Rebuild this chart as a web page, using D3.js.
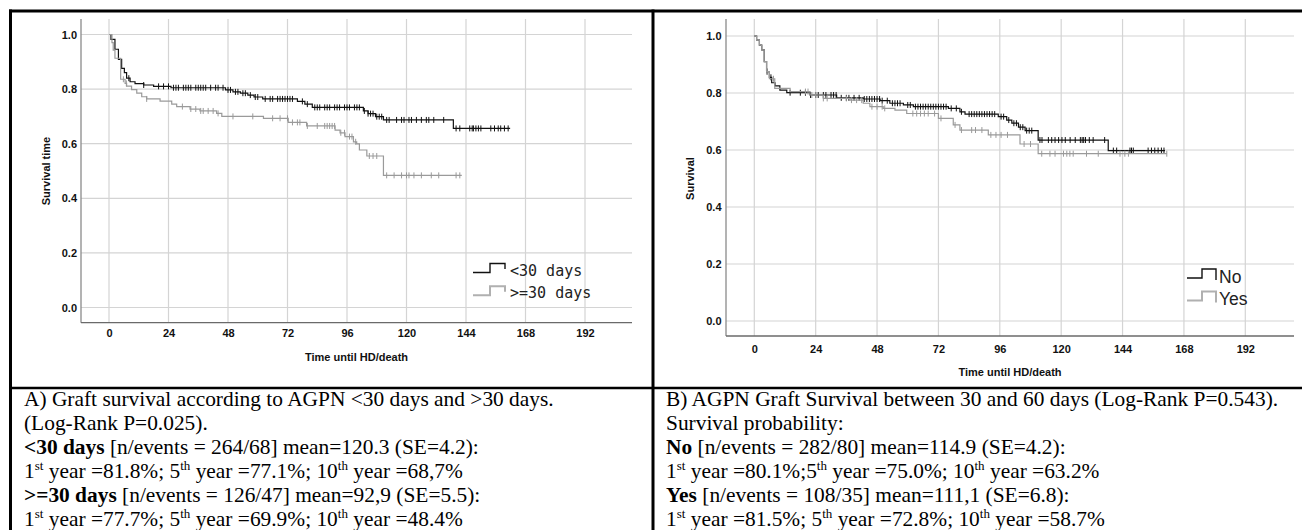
<!DOCTYPE html>
<html><head><meta charset="utf-8">
<script src="https://cdn.jsdelivr.net/npm/d3@7"></script>
<style>html,body{margin:0;padding:0;background:#fff;}svg{display:block}</style>
</head><body>
<svg id="c" width="1302" height="530"></svg>
<script>
// ---------------- DATA ----------------
const xTickValues = [0, 24, 48, 72, 96, 120, 144, 168, 192];
const yTickValues = [0.0, 0.2, 0.4, 0.6, 0.8, 1.0];
const xAxisTitle = "Time until HD/death";
const yTitleA = "Survival time";
const yTitleB = "Survival";

// Panel A: <30 days (black)
const lowTimes = [0, 0.8, 2.4, 3.8, 5.1, 6.2, 7.1, 8.5, 10.5, 14, 18, 25, 47, 50, 53, 56, 58.5, 62, 76, 79, 82, 102.6, 104.5, 107.5, 110.7, 138.9];
const lowSurv  = [1.0, 0.982, 0.946, 0.909, 0.876, 0.86, 0.84, 0.827, 0.82, 0.815, 0.81, 0.805, 0.797, 0.79, 0.785, 0.778, 0.771, 0.764, 0.755, 0.745, 0.733, 0.72, 0.71, 0.699, 0.687, 0.656];
const lowEnd = 161.8;
const lowCensor = [8, 14, 20, 22, 24, 26, 27, 28, 30, 31, 32, 33, 35, 36, 37, 38, 39, 41, 43, 44, 46, 48, 49, 51, 52, 54, 55, 57, 59, 60, 63, 65, 66, 68, 69, 70, 71, 72, 73, 74, 78, 80, 83, 84, 85, 87, 88, 89, 91, 92, 93, 95, 96, 97, 99, 100, 101, 103, 104.5, 105.5, 106.5, 108, 109, 110, 112, 113, 116, 118, 119, 121, 122, 124, 126, 128, 129, 131, 135, 140, 141.5, 145.5, 146.5, 147, 148, 149, 150, 154, 155.5, 157, 158, 159.5, 161];

// Panel A: >=30 days (grey)
const highTimes = [0, 1.2, 1.7, 2.4, 4.7, 6.5, 7.1, 9.1, 11.2, 13.2, 15.2, 20.6, 25.3, 27.3, 32.7, 36.7, 43.4, 45.5, 62.3, 72.3, 79.7, 91.2, 93.2, 95.2, 98.6, 99.9, 101, 104, 110.7];
const highSurv  = [1.0, 0.97, 0.943, 0.913, 0.836, 0.821, 0.811, 0.798, 0.785, 0.772, 0.764, 0.756, 0.745, 0.736, 0.727, 0.72, 0.711, 0.70, 0.693, 0.678, 0.665, 0.65, 0.64, 0.626, 0.607, 0.599, 0.577, 0.555, 0.484];
const highEnd = 142.3;
const highCensor = [5.8, 7, 15.2, 29.6, 33, 35, 37, 38, 40, 42, 44, 50, 58, 66, 69, 72, 74, 76, 77, 80, 84, 87, 88, 89, 90, 91, 93.5, 95, 97, 98, 99.5, 105, 106.5, 108, 112, 115, 118, 120, 121, 123, 126, 130, 133, 140, 141.5];

// Panel B: No (black)
const noTimes = [0, 0.9, 2, 2.9, 3.9, 4.8, 5.9, 6.8, 8.1, 10, 12.7, 21.8, 32.2, 42.6, 49.2, 53, 58.3, 62.2, 75.9, 80.4, 82.4, 95.4, 98.7, 100.7, 103.3, 105.9, 111, 138.4];
const noSurv  = [1.0, 0.986, 0.968, 0.951, 0.91, 0.875, 0.855, 0.836, 0.825, 0.81, 0.801, 0.793, 0.783, 0.779, 0.773, 0.764, 0.758, 0.752, 0.746, 0.734, 0.726, 0.717, 0.705, 0.694, 0.68, 0.668, 0.635, 0.598];
const noEnd = 160.6;
const noCensor = [5, 6.5, 14, 18, 20, 22, 24, 25, 27, 28, 30, 31, 32, 34, 36, 37, 39, 41, 43, 44, 45, 46, 47, 48, 49, 50, 52, 54, 55, 56, 57, 60, 61, 63, 64, 65, 66, 67, 68, 69, 70, 71, 72, 73, 74, 75, 77, 79, 81, 84, 85, 86, 87, 88, 89, 90, 91, 92, 93, 94, 96.5, 97.5, 99.5, 101.5, 102.5, 104, 105, 106.5, 107.5, 108.5, 111.7, 112.5, 115, 116.3, 117.6, 119, 120.3, 121.6, 123.5, 125.5, 127.5, 128.2, 128.8, 129.5, 131, 132.5, 137, 140.4, 141.7, 146.9, 147.5, 148.2, 154, 155.3, 156.6, 157.9, 159.2, 160.2];

// Panel B: Yes (grey)
const yesTimes = [0, 0.9, 2, 2.9, 3.9, 4.8, 5.9, 8, 14, 21.8, 27, 37.4, 42.6, 45.2, 50.4, 55, 59.6, 72, 77.8, 80.4, 91.5, 103.9, 111];
const yesSurv  = [1.0, 0.986, 0.968, 0.951, 0.91, 0.875, 0.85, 0.816, 0.805, 0.793, 0.781, 0.775, 0.764, 0.752, 0.746, 0.74, 0.728, 0.711, 0.688, 0.67, 0.653, 0.621, 0.587];
const yesEnd = 161.3;
const yesCensor = [5, 7.5, 20, 21, 22.5, 24, 27, 28.5, 36, 38, 40, 42, 46, 48, 50, 51, 62, 63.5, 65, 66.5, 68, 70.5, 73, 78.5, 81, 85, 86.5, 89, 92.5, 94.5, 96.5, 99, 105.5, 108, 112.4, 115.6, 117.6, 120.9, 122.2, 123.4, 124.7, 129.9, 134.5, 143, 144.9, 146.3, 161.3];

const legendA = ["<30 days", ">=30 days"];
const legendB = ["No", "Yes"];

// Caption texts: each line is a list of [text, style] segments (b = bold, s = superscript)
const captionA = [
  [["A) Graft survival according to AGPN <30 days and >30 days.", ""]],
  [["(Log-Rank P=0.025).", ""]],
  [["<30 days", "b"], [" [n/events = 264/68] mean=120.3 (SE=4.2):", ""]],
  [["1", ""], ["st", "s"], [" year =81.8%; 5", ""], ["th", "s"], [" year =77.1%; 10", ""], ["th", "s"], [" year =68,7%", ""]],
  [[">=30 days", "b"], [" [n/events = 126/47] mean=92,9 (SE=5.5):", ""]],
  [["1", ""], ["st", "s"], [" year =77.7%; 5", ""], ["th", "s"], [" year =69.9%; 10", ""], ["th", "s"], [" year =48.4%", ""]]
];
const captionB = [
  [["B) AGPN Graft Survival between 30 and 60 days (Log-Rank P=0.543).", ""]],
  [["Survival probability:", ""]],
  [["No", "b"], [" [n/events = 282/80] mean=114.9 (SE=4.2):", ""]],
  [["1", ""], ["st", "s"], [" year =80.1%;5", ""], ["th", "s"], [" year =75.0%; 10", ""], ["th", "s"], [" year =63.2%", ""]],
  [["Yes", "b"], [" [n/events = 108/35] mean=111,1 (SE=6.8):", ""]],
  [["1", ""], ["st", "s"], [" year =81.5%; 5", ""], ["th", "s"], [" year =72.8%; 10", ""], ["th", "s"], [" year =58.7%", ""]]
];

// ---------------- DRAWING ----------------
const svg = d3.select("#c");
const BLACK = "#111", GREY = "#9a9a9a";

function drawPanel(cfg) {
  const x = d3.scaleLinear().domain([0, 192]).range(cfg.xr);
  const y = d3.scaleLinear().domain([0, 1]).range(cfg.yr);
  const g = svg.append("g");
  const [L, R, T, B] = cfg.box;

  g.selectAll(".hg").data(yTickValues).join("line")
    .attr("x1", L).attr("x2", R).attr("y1", d => y(d)).attr("y2", d => y(d))
    .attr("stroke", "#d4d4d4").attr("stroke-width", 1.2);
  g.selectAll(".vg").data(xTickValues).join("line")
    .attr("y1", T).attr("y2", B).attr("x1", d => x(d)).attr("x2", d => x(d))
    .attr("stroke", "#d4d4d4").attr("stroke-width", 1.2);

  const xa = g.append("g").attr("transform", `translate(0,${B})`)
    .call(d3.axisBottom(x).tickValues(xTickValues).tickSize(0).tickPadding(cfg.xPad).tickFormat(d3.format("d")));
  const ya = g.append("g").attr("transform", `translate(${L},0)`)
    .call(d3.axisLeft(y).tickValues(yTickValues).tickSize(0).tickPadding(L - cfg.yLabX).tickFormat(d3.format(".1f")));
  [xa, ya].forEach(a => {
    a.select(".domain").remove();
    a.selectAll("text").attr("font-family", "Liberation Sans, Arial, sans-serif")
      .attr("font-size", 11).attr("fill", "#111").attr("font-weight", "bold");
  });
  g.append("line").attr("x1", L).attr("x2", L).attr("y1", T).attr("y2", B)
    .attr("stroke", "#8a8a8a").attr("stroke-width", 1.3);
  g.append("line").attr("x1", L).attr("x2", R).attr("y1", B).attr("y2", B)
    .attr("stroke", "#6a6a6a").attr("stroke-width", 1.3);

  g.append("text").attr("x", (L + R) / 2).attr("y", cfg.xTitleY)
    .attr("text-anchor", "middle").attr("font-family", "Liberation Sans, Arial, sans-serif")
    .attr("font-size", 11).attr("font-weight", "bold").attr("fill", "#111").text(xAxisTitle);
  g.append("text").attr("transform", `translate(${cfg.yTitleX},${(y(0) + y(1)) / 2}) rotate(-90)`)
    .attr("text-anchor", "middle").attr("font-family", "Liberation Sans, Arial, sans-serif")
    .attr("font-size", 11).attr("font-weight", "bold").attr("fill", "#111").text(cfg.yTitle);

  const line = d3.line().x(d => x(d[0])).y(d => y(d[1])).curve(d3.curveStepAfter);
  cfg.series.forEach(s => {
    const pts = s.t.map((t, i) => [t, s.s[i]]);
    pts.push([s.end, s.s[s.s.length - 1]]);
    g.append("path").attr("d", line(pts)).attr("fill", "none")
      .attr("stroke", s.c).attr("stroke-width", 1.2);
    const surv = t => { let v = s.s[0]; for (let i = 0; i < s.t.length; i++) if (s.t[i] <= t) v = s.s[i]; return v; };
    g.selectAll(null).data(s.cens).join("line")
      .attr("x1", d => x(d)).attr("x2", d => x(d))
      .attr("y1", d => y(surv(d)) - 3).attr("y2", d => y(surv(d)) + 3)
      .attr("stroke", s.c).attr("stroke-width", 1);
  });

  cfg.series.forEach((s, i) => {
    const lg = cfg.legend;
    const yy = lg.y + i * lg.dy;
    const p = `M${lg.x0},${yy + lg.low} H${lg.x1} V${yy + lg.high} H${lg.x2} V${yy + lg.end}`;
    g.append("path").attr("d", p).attr("fill", "none").attr("stroke", s.c === BLACK ? "#111" : "#b0b0b0")
      .attr("stroke-width", s.c === BLACK ? 1.4 : 2);
    g.append("text").attr("x", lg.tx).attr("y", yy + lg.base)
      .attr("font-family", lg.font).attr("font-size", lg.fs).attr("fill", "#222").text(lg.labels[i]);
  });
}

drawPanel({
  xr: [109, 585], yr: [307.5, 34.5], box: [81, 632, 19, 322.7],
  xPad: 7, yLabX: 77, xTitleY: 361, yTitleX: 50, yTitle: yTitleA,
  series: [
    {t: lowTimes, s: lowSurv, end: lowEnd, cens: lowCensor, c: BLACK},
    {t: highTimes, s: highSurv, end: highEnd, cens: highCensor, c: GREY}
  ],
  legend: {x0: 473, x1: 490, x2: 505, y: 270, dy: 22.7, low: 2.5, high: -6.5, end: -1, tx: 510,
    base: 5.5, fs: 15, font: "DejaVu Sans Mono, monospace", labels: legendA}
});
drawPanel({
  xr: [754.3, 1245.3], yr: [321, 36], box: [726, 1294, 19, 336],
  xPad: 9, yLabX: 721.5, xTitleY: 376, yTitleX: 694, yTitle: yTitleB,
  series: [
    {t: noTimes, s: noSurv, end: noEnd, cens: noCensor, c: BLACK},
    {t: yesTimes, s: yesSurv, end: yesEnd, cens: yesCensor, c: GREY}
  ],
  legend: {x0: 1187, x1: 1202, x2: 1216, y: 276.5, dy: 22.5, low: 1.5, high: -7.5, end: 3.5, tx: 1219,
    base: 6, fs: 17.5, font: "Liberation Sans, Arial, sans-serif", labels: legendB}
});

const bord = svg.append("g").attr("stroke", "#000");
bord.append("line").attr("x1", 9).attr("x2", 1302).attr("y1", 11).attr("y2", 11).attr("stroke-width", 3);
bord.append("line").attr("x1", 10.5).attr("x2", 10.5).attr("y1", 9.5).attr("y2", 530).attr("stroke-width", 3);
bord.append("line").attr("x1", 653).attr("x2", 653).attr("y1", 9.5).attr("y2", 530).attr("stroke-width", 3);
bord.append("line").attr("x1", 9).attr("x2", 1302).attr("y1", 388).attr("y2", 388).attr("stroke-width", 2.5);

function caption(lines, x0) {
  const t = svg.append("text").attr("font-family", "Liberation Serif, Times New Roman, serif")
    .attr("font-size", 21.4).attr("fill", "#000");
  lines.forEach((segs, i) => {
    const yy = 406 + i * 24;
    segs.forEach((sg, j) => {
      const ts = t.append("tspan").text(sg[0]);
      if (j === 0) ts.attr("x", x0).attr("y", yy);
      if (sg[1] === "b") ts.attr("font-weight", "bold");
      if (sg[1] === "s") ts.attr("font-size", 13).attr("dy", -8);
      if (j > 0 && segs[j - 1][1] === "s") ts.attr("dy", 8);
    });
  });
}
caption(captionA, 24);
caption(captionB, 666);
</script>
</body></html>
